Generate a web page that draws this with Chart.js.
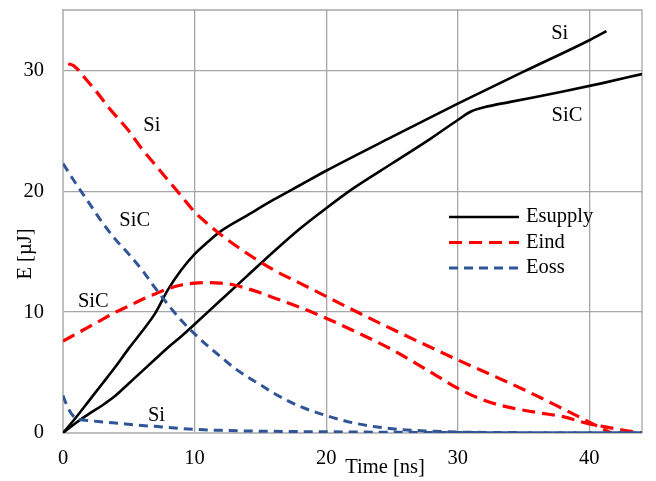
<!DOCTYPE html>
<html>
<head>
<meta charset="utf-8">
<script src="https://cdn.jsdelivr.net/npm/chart.js@4/dist/chart.umd.min.js"></script>
<style>
  html, body { margin: 0; padding: 0; background: #ffffff; }
  #wrap { width: 656px; height: 481px; }
</style>
</head>
<body>
<div id="wrap"><canvas id="chart" width="656" height="481"></canvas></div>
<script>
// Switching energy traces over time, Si vs SiC device.
// Time in ns, energy in µJ.

// Esupply — energy delivered by the supply
const tSupplySi  = [0, 1, 2, 3, 4, 5, 6, 7, 8, 9, 10, 11, 12, 14, 16, 18, 20, 25, 30, 35, 40, 41.3];
const eSupplySi  = [0, 1.3, 2.7, 4.1, 5.5, 7.0, 8.4, 9.9, 11.9, 13.5, 14.8, 15.8, 16.7, 18.0, 19.3, 20.5, 21.7, 24.5, 27.25, 29.9, 32.5, 33.25];
const tSupplySiC = [0, 1, 2, 3, 4, 5, 6, 7, 8, 9, 10, 12, 14, 16, 18, 20, 22, 25, 28, 30, 31, 32, 34, 38, 41, 44];
const eSupplySiC = [0, 0.85, 1.6, 2.3, 3.1, 4.1, 5.1, 6.1, 7.1, 8.0, 9.0, 11.0, 13.0, 15.0, 16.9, 18.6, 20.2, 22.3, 24.4, 25.9, 26.6, 26.95, 27.4, 28.25, 28.95, 29.7];

// Eind — energy stored in the inductance
const tIndSi  = [0.4, 0.8, 1.2, 1.8, 2.5, 3.5, 5, 6, 7, 8, 9, 10, 11, 12, 14, 16, 18, 20, 22, 25, 30, 35, 38, 40, 41, 41.7];
const eIndSi  = [30.55, 30.4, 30.0, 29.2, 28.3, 26.9, 25.0, 23.5, 22.2, 20.9, 19.6, 18.3, 17.3, 16.4, 14.85, 13.5, 12.4, 11.3, 10.2, 8.6, 6.05, 3.6, 2.0, 0.9, 0.35, 0];
const tIndSiC = [0, 1, 2, 3, 4, 5, 6, 7, 8, 9, 10, 11, 12, 13, 14, 15, 16, 18, 20, 22, 25, 28, 30, 32, 34, 36, 38, 40, 41, 42, 43, 44];
const eIndSiC = [7.6, 8.2, 8.8, 9.4, 10.0, 10.5, 11.05, 11.5, 11.95, 12.25, 12.4, 12.45, 12.4, 12.25, 11.95, 11.6, 11.2, 10.4, 9.5, 8.5, 6.9, 5.0, 3.7, 2.7, 2.1, 1.7, 1.35, 0.75, 0.55, 0.35, 0.15, 0.02];

// Eoss — energy in the output capacitance
const tOssSi  = [0, 0.25, 0.5, 0.75, 1, 1.5, 2, 3, 4, 5, 6, 7, 8, 9, 10, 12, 15, 20, 25, 30, 35, 44];
const eOssSi  = [3.1, 2.4, 1.85, 1.45, 1.2, 1.08, 1.02, 0.92, 0.82, 0.72, 0.62, 0.55, 0.45, 0.37, 0.3, 0.22, 0.15, 0.1, 0.06, 0.04, 0.02, 0.02];
const tOssSiC = [0, 1, 2, 3, 4, 5, 6, 7, 8, 9, 10, 11, 12, 13, 14, 15, 16, 18, 20, 22, 25, 28, 30, 35, 40, 44];
const eOssSiC = [22.3, 20.6, 19.0, 17.4, 16.0, 14.8, 13.5, 12.0, 10.6, 9.3, 8.2, 7.2, 6.3, 5.4, 4.65, 4.0, 3.3, 2.2, 1.45, 0.85, 0.35, 0.15, 0.08, 0.03, 0.02, 0.02];

// Axis ticks
const xTicks = [0, 10, 20, 30, 40];
const yTicks = [0, 10, 20, 30];

// Legend entries and device labels placed next to the curves (data units)
const legendNames = ['Esupply', 'Eind', 'Eoss'];
const calloutText = ['Si', 'SiC', 'Si', 'SiC', 'SiC', 'Si'];
const calloutX    = [37.75, 38.3, 6.75, 5.45, 2.3, 7.1];
const calloutY    = [33.05, 26.3, 25.4, 17.6, 10.85, 1.4];

const FONT = "'Liberation Serif', 'Times New Roman', serif";
const FONT_SIZE = 20.5;
const BLACK = '#000000';
const RED = '#ff0000';
const BLUE = '#2f5597';

const pts = (t, e) => t.map((v, i) => ({ x: v, y: e[i] }));

const styleSupply = { borderColor: BLACK, borderWidth: 2.6, borderDash: [] };
const styleInd    = { borderColor: RED,   borderWidth: 3.2, borderDash: [13, 7] };
const styleOss    = { borderColor: BLUE,  borderWidth: 3.0, borderDash: [9, 6] };

function series(label, t, e, style) {
  return Object.assign({
    label,
    data: pts(t, e),
    showLine: true,
    fill: false,
    pointRadius: 0,
    pointHoverRadius: 0,
    tension: 0.4,
    cubicInterpolationMode: 'monotone',
    borderCapStyle: 'butt',
    borderJoinStyle: 'round'
  }, style);
}

const datasets = [
  series('Eoss Si',     tOssSi,     eOssSi,     styleOss),
  series('Eoss SiC',    tOssSiC,    eOssSiC,    styleOss),
  series('Eind Si',     tIndSi,     eIndSi,     styleInd),
  series('Eind SiC',    tIndSiC,    eIndSiC,    styleInd),
  series('Esupply Si',  tSupplySi,  eSupplySi,  styleSupply),
  series('Esupply SiC', tSupplySiC, eSupplySiC, styleSupply)
];

// Top/right frame of the plot area
const framePlugin = {
  id: 'frame',
  beforeDatasetsDraw(chart) {
    const { ctx, chartArea: a } = chart;
    ctx.save();
    ctx.strokeStyle = '#a6a6a6';
    ctx.lineWidth = 1.3;
    ctx.beginPath();
    ctx.moveTo(a.left, a.top);
    ctx.lineTo(a.right, a.top);
    ctx.lineTo(a.right, a.bottom);
    ctx.stroke();
    ctx.restore();
  }
};

// Axis titles, device labels and legend
const textPlugin = {
  id: 'texts',
  afterDatasetsDraw(chart) {
    const { ctx, chartArea: a, scales } = chart;
    ctx.save();
    ctx.fillStyle = '#000';
    ctx.font = FONT_SIZE + 'px ' + FONT;

    // device labels
    ctx.textAlign = 'center';
    ctx.textBaseline = 'middle';
    calloutText.forEach((s, i) => {
      ctx.fillText(s, scales.x.getPixelForValue(calloutX[i]), scales.y.getPixelForValue(calloutY[i]));
    });

    // x title
    ctx.fillText('Time [ns]', a.left + 322, a.bottom + 35);

    // y title
    ctx.save();
    ctx.translate(a.left - 37, a.top + 244);
    ctx.rotate(-Math.PI / 2);
    ctx.fillText('E [µJ]', 0, 0);
    ctx.restore();

    // legend
    const styles = [styleSupply, styleInd, styleOss];
    ctx.textAlign = 'left';
    legendNames.forEach((name, i) => {
      const y = a.top + 207 + i * 25.5;
      const st = styles[i];
      ctx.save();
      ctx.strokeStyle = st.borderColor;
      ctx.lineWidth = st.borderWidth;
      ctx.setLineDash(st.borderDash);
      ctx.lineCap = 'butt';
      ctx.beginPath();
      ctx.moveTo(a.left + 386, y);
      ctx.lineTo(a.left + 456, y);
      ctx.stroke();
      ctx.restore();
      ctx.fillText(name, a.left + 463, y);
    });
    ctx.restore();
  }
};

new Chart(document.getElementById('chart'), {
  type: 'scatter',
  data: { datasets },
  options: {
    responsive: false,
    animation: false,
    events: [],
    layout: { padding: { left: 0, right: 14, top: 10, bottom: 0 } },
    plugins: { legend: { display: false }, tooltip: { enabled: false }, title: { display: false } },
    scales: {
      x: {
        type: 'linear',
        min: 0,
        max: 44,
        afterBuildTicks: s => { s.ticks = xTicks.map(v => ({ value: v })); },
        afterFit: s => { s.height = 48; s.paddingLeft = 0; s.paddingRight = 0; },
        ticks: { color: '#000', padding: 13, maxRotation: 0, font: { family: FONT, size: FONT_SIZE } },
        grid: { color: '#a6a6a6', lineWidth: 1.3, drawTicks: false },
        border: { color: '#bfbfbf', width: 2 }
      },
      y: {
        type: 'linear',
        min: 0,
        max: 35,
        afterBuildTicks: s => { s.ticks = yTicks.map(v => ({ value: v })); },
        afterFit: s => { s.width = 63; s.paddingTop = 0; s.paddingBottom = 0; },
        ticks: { color: '#000', padding: 19, font: { family: FONT, size: FONT_SIZE } },
        grid: { color: '#a6a6a6', lineWidth: 1.3, drawTicks: false },
        border: { color: '#bfbfbf', width: 2 }
      }
    }
  },
  plugins: [framePlugin, textPlugin]
});
</script>
</body>
</html>
